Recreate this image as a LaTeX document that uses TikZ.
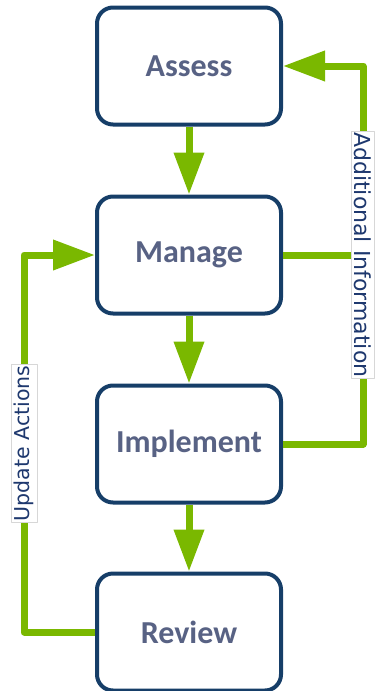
\documentclass[tikz,border=0pt]{standalone}
\usepackage{fontspec}
\setmainfont{Carlito}
\newfontfamily\labelfont{DejaVu Sans}
\usepackage{tikz}
\usetikzlibrary{positioning,arrows.meta}
\usepackage{xcolor}
\definecolor{boxblue}{RGB}{22,62,104}
\definecolor{textslate}{RGB}{88,98,132}
\definecolor{loopgreen}{RGB}{122,184,0}
\definecolor{tagblue}{RGB}{30,56,110}
\definecolor{taggray}{RGB}{215,215,215}

\begin{document}
\begin{tikzpicture}[x=1pt,y=-1pt,
  stage/.style={rectangle,rounded corners=16pt,draw=boxblue,line width=4pt,fill=white,
    text=textslate,font=\fontsize{32}{34}\selectfont\bfseries,
    minimum width=184pt,minimum height=117pt},
  flow/.style={loopgreen,line width=7pt,line join=round,
    -{Triangle[width=29pt,length=42pt]}},
  feed/.style={loopgreen,line width=7pt,line join=round},
  tag/.style={rectangle,fill=white,draw=taggray,line width=0.8pt,text=tagblue,
    inner xsep=1pt,inner ysep=3pt}
]
\useasboundingbox (0,0) rectangle (379,691);

\node[stage] (assess) at (189,66) {Assess};
\node[stage] (manage) at (189,255) {Manage};
\node[stage] (implement) at (189,444) {Implement};
\node[stage] (review) at (189,632) {Review};

% main sequence
\draw[flow] (assess) -- (manage);
\draw[flow] (manage) -- (implement);
\draw[flow] (implement) -- (review);

% feedback loops
\coordinate (lcorner) at (24,632);
\coordinate (rcorner) at (363,444);
\draw[feed] (manage.east) -- (manage.east -| rcorner);
\draw[flow] (implement.east) -- (rcorner) |-
  node[tag,pos=0.25,rotate=-90,font=\labelfont\fontsize{22}{25}\selectfont] (addinfo) {Additional Information} (assess.east);
\draw[flow] (review.west) -- (lcorner) |-
  node[tag,pos=0.25,rotate=90,font=\labelfont\fontsize{20.5}{24}\selectfont] (updact) {Update Actions} (manage.west);
\end{tikzpicture}
\end{document}
